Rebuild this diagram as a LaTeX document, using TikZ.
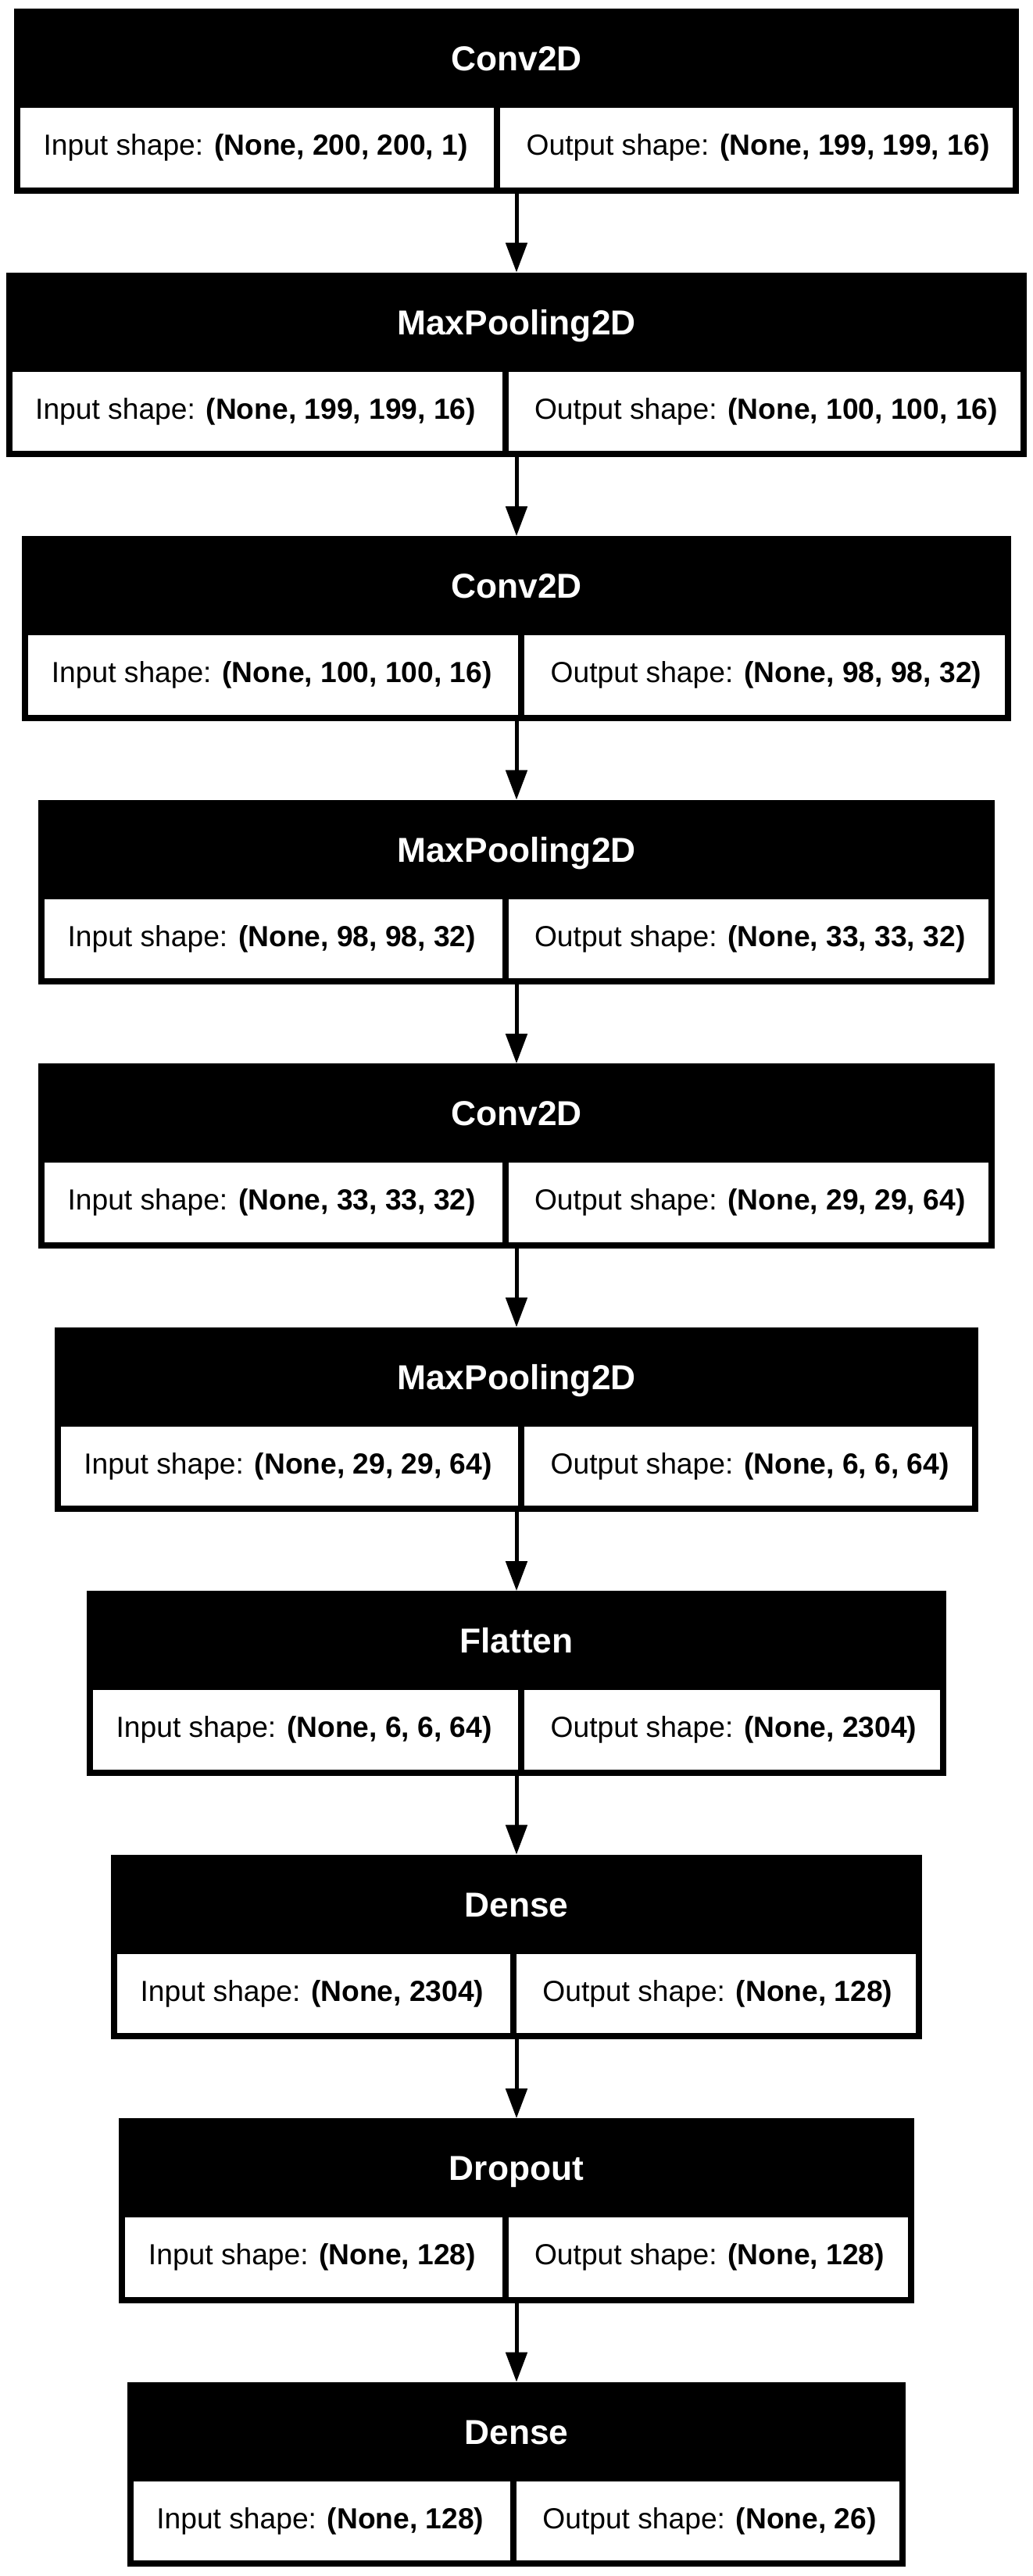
\documentclass[tikz,border=0pt]{standalone}
\usepackage{fontspec}
\setmainfont{Liberation Sans}
\usepackage{tikz}
\usetikzlibrary{arrows.meta, positioning, shapes.multipart, fit, calc}

\newcommand{\cellfont}{\fontsize{18.6}{22}\selectfont}
\newcommand{\titlefont}{\fontsize{22.15}{26}\selectfont\bfseries}

\tikzset{
	shaperow/.style={rectangle split, rectangle split horizontal, rectangle split parts=2,
		draw=black, fill=white, line width=4pt, outer sep=0pt,
		inner xsep=16.75pt, inner ysep=18.75pt, font=\cellfont},
	header/.style={fill=black, text=white, inner sep=0pt, outer sep=0pt, font=\titlefont},
	titletext/.style={text height=39.7pt, text depth=23.8pt},
	flow/.style={-{Triangle[width=13.5pt,length=19pt]}, line width=2.5pt}
}

\begin{document}
\begin{tikzpicture}
	\useasboundingbox[fill=white] (0,0) rectangle (661pt,-1648.5pt);

	% layers
	\foreach \i/\name/\inp/\outp in {
		0/Conv2D/{(None, 200, 200, 1)}/{(None, 199, 199, 16)},
		1/MaxPooling2D/{(None, 199, 199, 16)}/{(None, 100, 100, 16)},
		2/Conv2D/{(None, 100, 100, 16)}/{(None, 98, 98, 32)},
		3/MaxPooling2D/{(None, 98, 98, 32)}/{(None, 33, 33, 32)},
		4/Conv2D/{(None, 33, 33, 32)}/{(None, 29, 29, 64)},
		5/MaxPooling2D/{(None, 29, 29, 64)}/{(None, 6, 6, 64)},
		6/Flatten/{(None, 6, 6, 64)}/{(None, 2304)},
		7/Dense/{(None, 2304)}/{(None, 128)},
		8/Dropout/{(None, 128)}/{(None, 128)},
		9/Dense/{(None, 128)}/{(None, 26)}}
	{
		\node[shaperow] (c\i) at (330.5pt,-94.5pt-\i*168.75pt)
			{Input shape: \textbf{\inp}\nodepart{two}Output shape: \textbf{\outp}};
		\node[header, fit={($(c\i.north west)+(-2pt,-2pt)$) ($(c\i.north east)+(2pt,61.5pt)$)}, titletext] (h\i) {\name};
	}

	% connections
	\foreach \i/\j in {0/1,1/2,2/3,3/4,4/5,5/6,6/7,7/8,8/9}
		\draw[flow] (c\i.south) -- (h\j.north);
\end{tikzpicture}
\end{document}
